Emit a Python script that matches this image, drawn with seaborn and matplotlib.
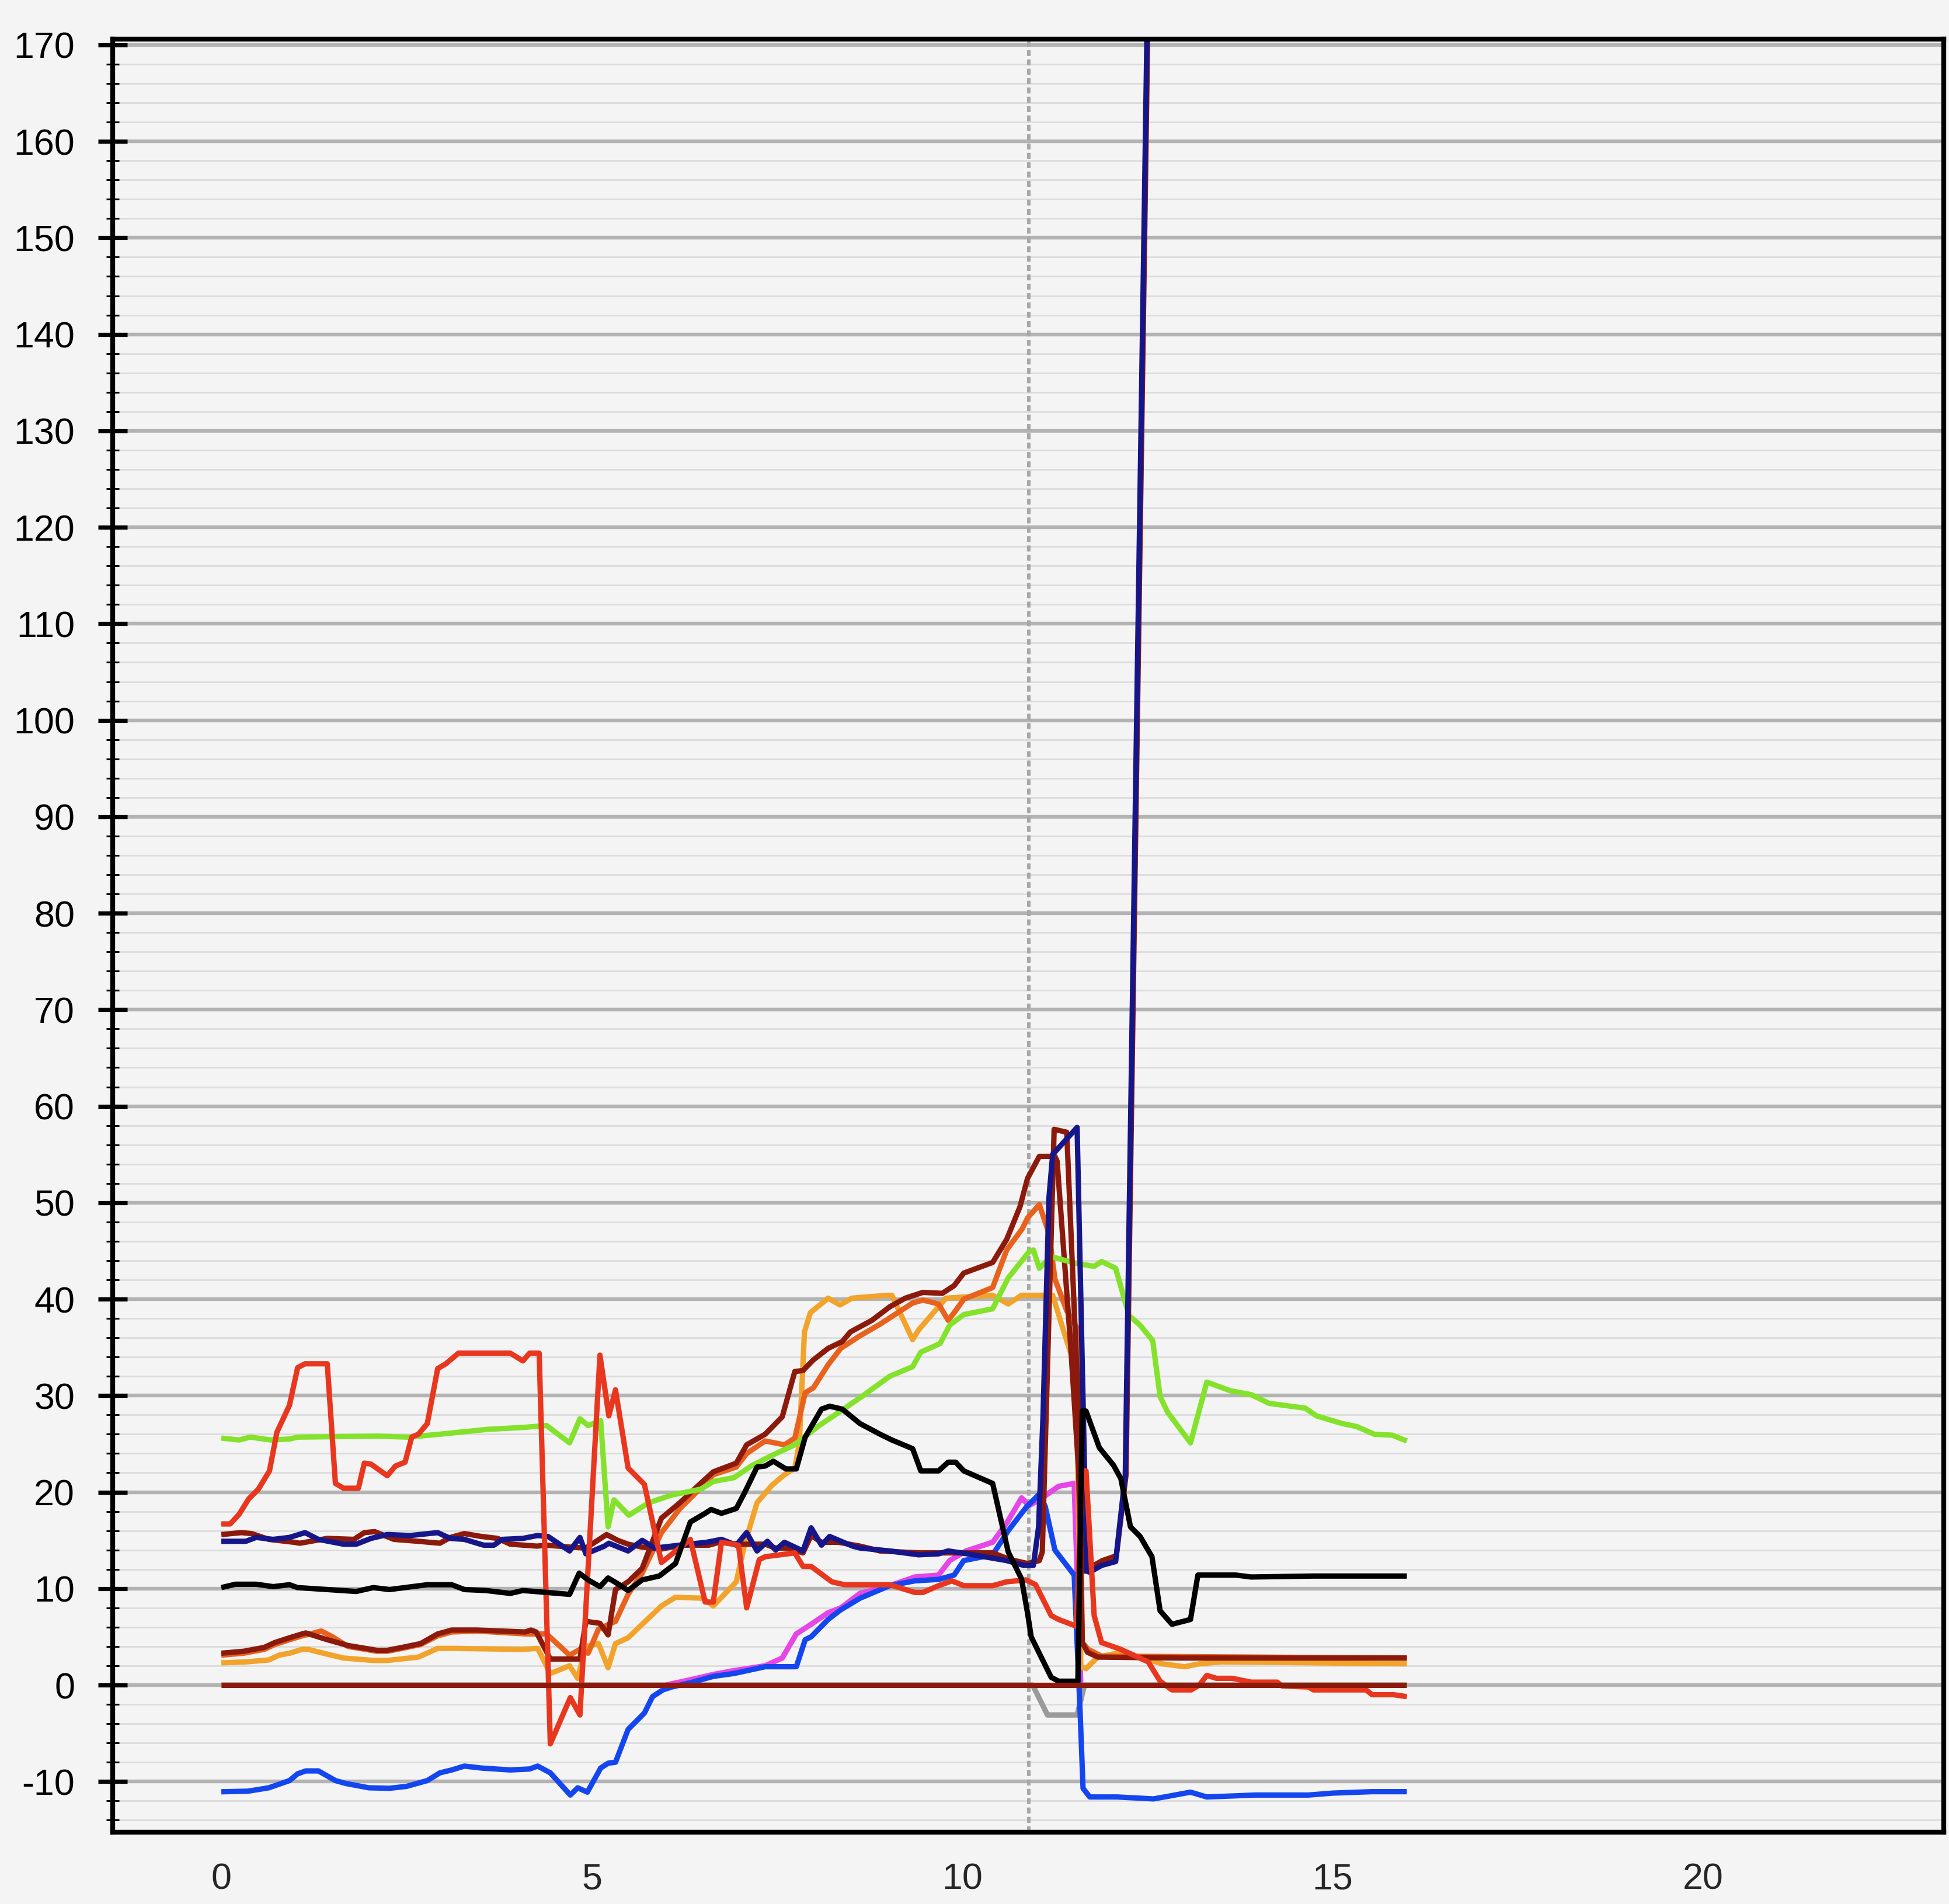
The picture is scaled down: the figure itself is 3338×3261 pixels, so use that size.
import numpy as np
import pandas as pd
import matplotlib
matplotlib.use("Agg")
import matplotlib.pyplot as plt
from matplotlib.ticker import MultipleLocator
import seaborn as sns

# ---------------- data ----------------
red_x = [0, 0.12, 0.24, 0.37, 0.5, 0.65, 0.75, 0.92, 1.03, 1.13, 1.43, 1.54, 1.65, 1.85, 1.93, 2.02,
         2.24, 2.35, 2.48, 2.57, 2.66, 2.78, 2.92, 3.03, 3.2, 3.9, 4.07, 4.16, 4.29, 4.44, 4.71, 4.84,
         5.11, 5.23, 5.32, 5.49, 5.71, 5.94, 6.33, 6.53, 6.64, 6.75, 6.98, 7.09, 7.26, 7.34, 7.74, 7.85,
         7.96, 8.24, 8.41, 9.02, 9.36, 9.47, 9.68, 9.86, 10.02, 10.41, 10.6, 10.86, 10.99, 11.2, 11.3,
         11.54, 11.62, 11.67, 11.78, 11.88, 12.14, 12.51, 12.67, 12.83, 13.09, 13.2, 13.3, 13.43, 13.64,
         13.9, 14.25, 14.32, 14.67, 14.74, 15.45, 15.53, 15.82, 16.0]
red_y = [16.7, 16.7, 17.7, 19.3, 20.3, 22.2, 26.2, 29.0, 32.9, 33.3, 33.3, 20.9, 20.4, 20.4, 23.0, 22.9,
         21.7, 22.7, 23.1, 25.7, 26.0, 27.1, 32.8, 33.3, 34.4, 34.4, 33.6, 34.4, 34.4, -6.1, -1.3, -3.1,
         34.2, 27.9, 30.6, 22.5, 20.8, 12.7, 15.1, 8.6, 8.6, 14.8, 14.5, 8.0, 13.0, 13.3, 13.7, 12.3,
         12.3, 10.7, 10.4, 10.4, 9.6, 9.6, 10.3, 10.8, 10.3, 10.3, 10.7, 10.9, 10.4, 7.2, 6.8,
         6.1, 22.2, 22.2, 7.2, 4.4, 3.7, 2.4, 0.4, -0.5, -0.5, 0.0, 1.0, 0.7, 0.7,
         0.3, 0.3, -0.1, -0.2, -0.5, -0.5, -1.0, -1.0, -1.2]

green_x = [0, 0.24, 0.39, 0.67, 0.92, 1.03, 2.1, 2.52, 2.95, 3.59, 4.07, 4.39, 4.7, 4.84, 4.95, 5.12,
           5.22, 5.3, 5.5, 5.77, 6.08, 6.47, 6.64, 6.92, 7.15, 7.43, 7.74, 8.05, 8.36, 8.68, 9.02, 9.33,
           9.44, 9.7, 9.83, 10.02, 10.41, 10.62, 10.9, 10.96, 11.04, 11.2, 11.54, 11.78, 11.88, 12.07,
           12.25, 12.4, 12.57, 12.67, 12.77, 13.08, 13.3, 13.62, 13.9, 14.14, 14.63, 14.78, 15.13,
           15.32, 15.56, 15.8, 16.0]
green_y = [25.6, 25.4, 25.7, 25.4, 25.5, 25.7, 25.8, 25.7, 26.0, 26.5, 26.7, 26.9, 25.1, 27.6, 26.9, 27.4,
           16.4, 19.2, 17.6, 18.9, 19.7, 20.3, 21.1, 21.5, 22.7, 23.8, 24.9, 26.8, 28.4, 30.1, 32.0, 33.0,
           34.5, 35.4, 37.3, 38.4, 39.0, 42.2, 44.9, 45.1, 43.2, 44.4, 43.7, 43.4, 43.9, 43.2,
           38.3, 37.3, 35.7, 29.9, 28.3, 25.1, 31.4, 30.5, 30.1, 29.2, 28.7, 27.9, 27.1,
           26.8, 26.0, 25.9, 25.3]

black_x = [0, 0.19, 0.47, 0.7, 0.92, 1.03, 1.43, 1.82, 2.05, 2.27, 2.78, 3.11, 3.28, 3.57, 3.9, 4.07,
           4.39, 4.7, 4.83, 4.95, 5.11, 5.22, 5.35, 5.49, 5.68, 5.91, 6.13, 6.33, 6.53, 6.61, 6.75, 6.95,
           7.06, 7.23, 7.34, 7.45, 7.62, 7.76, 7.88, 8.1, 8.21, 8.38, 8.62, 8.89, 9.05, 9.33, 9.44, 9.68,
           9.81, 9.91, 10.02, 10.41, 10.62, 10.8, 10.88, 10.93, 11.02, 11.2, 11.3, 11.56, 11.62, 11.67,
           11.85, 12.04, 12.14, 12.27, 12.4, 12.56, 12.67, 12.83, 13.08, 13.18, 13.69, 13.9, 14.74, 16.0]
black_y = [10.1, 10.45, 10.45, 10.2, 10.4, 10.1, 9.9, 9.7, 10.1, 9.9, 10.4, 10.4, 9.9, 9.8, 9.5, 9.8,
           9.6, 9.4, 11.6, 10.9, 10.2, 11.1, 10.5, 9.8, 10.9, 11.3, 12.6, 16.9, 17.8, 18.2, 17.8, 18.3,
           19.9, 22.6, 22.7, 23.2, 22.4, 22.4, 25.7, 28.6, 28.9, 28.6, 27.1, 26.0, 25.4, 24.5, 22.2, 22.2,
           23.1, 23.1, 22.2, 20.9, 13.8, 11.0, 7.5, 5.0, 3.6, 0.8, 0.4, 0.4, 28.4, 28.4,
           24.6, 22.8, 21.4, 16.4, 15.4, 13.3, 7.7, 6.3, 6.8, 11.4, 11.4, 11.2, 11.3, 11.3]

navy_x = [0, 0.33, 0.47, 0.7, 0.92, 1.13, 1.31, 1.65, 1.82, 2.02, 2.24, 2.55, 2.92, 3.09, 3.28, 3.54,
          3.68, 3.79, 4.07, 4.27, 4.41, 4.7, 4.84, 4.92, 5.17, 5.23, 5.49, 5.68, 5.85, 6.19, 6.55, 6.75,
          6.95, 7.09, 7.23, 7.37, 7.48, 7.6, 7.85, 7.96, 8.1, 8.21, 8.52, 8.62, 9.02, 9.41, 9.68, 9.81,
          10.07, 10.6, 10.83, 10.96, 11.03, 11.09, 11.17, 11.22, 11.55, 11.68, 11.72, 11.88, 12.07,
          12.2, 12.5]
navy_y = [14.9, 14.9, 15.3, 15.1, 15.3, 15.8, 15.1, 14.6, 14.6, 15.2, 15.6, 15.5, 15.8, 15.2, 15.1, 14.5,
          14.5, 15.1, 15.2, 15.5, 15.4, 13.9, 15.3, 13.6, 14.4, 14.7, 13.9, 15.0, 14.2, 14.5, 14.8, 15.1,
          14.5, 15.8, 13.9, 14.9, 14.0, 14.8, 13.9, 16.3, 14.5, 15.4, 14.4, 14.2, 13.9, 13.5, 13.6, 13.9,
          13.6, 12.9, 12.4, 12.4, 16.4, 27.9, 50.5, 55.0, 57.8, 11.8, 11.7, 12.4, 12.8,
          21.8, 175.0]

darkred_a_x = [0, 0.27, 0.41, 0.64, 0.98, 1.06, 1.43, 1.79, 1.93, 2.07, 2.33, 2.66, 2.95, 3.09, 3.28,
               3.51, 3.73, 3.9, 4.26, 4.39, 4.7, 4.92, 5.2, 5.35, 5.49, 5.68, 5.94, 6.22, 6.58, 6.72,
               6.98, 7.34, 7.48, 7.65, 7.85, 7.96, 8.1, 8.33, 8.62, 8.89, 9.41, 10.41, 10.65, 10.88,
               11.04, 11.08, 11.24, 11.41, 11.66, 11.73, 11.89, 12.08, 12.21, 12.51]
darkred_a_y = [15.6, 15.8, 15.7, 15.1, 14.8, 14.7, 15.2, 15.1, 15.8, 15.9, 15.1, 14.9, 14.7, 15.3, 15.7,
               15.4, 15.2, 14.6, 14.4, 14.5, 14.3, 14.2, 15.6, 15.0, 14.6, 14.3, 14.1, 14.5, 14.5, 14.8,
               14.6, 14.6, 14.2, 14.2, 13.7, 15.5, 14.8, 14.8, 14.4, 13.9, 13.7, 13.7, 13.0, 12.6,
               12.9, 13.8, 57.6, 57.3, 11.8, 12.2, 12.9, 13.4, 21.8, 175.0]

darkred_b_x = [0, 0.3, 0.58, 0.72, 0.92, 1.09, 1.14, 1.43, 1.71, 2.1, 2.24, 2.44, 2.69, 2.92, 3.11,
               3.45, 4.1, 4.18, 4.25, 4.44, 4.84, 4.92, 5.11, 5.22, 5.32, 5.49, 5.68, 5.94, 6.19, 6.44,
               6.64, 6.95, 7.09, 7.34, 7.57, 7.74, 7.85, 7.99, 8.19, 8.38, 8.49, 8.78, 9.02, 9.23, 9.47,
               9.73, 9.89, 10.02, 10.41, 10.6, 10.78, 10.88, 11.04, 11.25, 11.28, 11.46, 11.57, 11.62,
               11.69, 11.83, 12.93, 16.0]
darkred_b_y = [3.3, 3.5, 3.9, 4.4, 4.9, 5.3, 5.4, 4.7, 4.1, 3.6, 3.6, 3.9, 4.3, 5.3, 5.7,
               5.7, 5.5, 5.7, 5.5, 2.7, 2.7, 6.6, 6.4, 5.2, 9.9, 10.7, 12.1, 17.3, 18.9, 20.7,
               22.1, 23.0, 24.9, 26.0, 27.8, 32.5, 32.6, 33.7, 34.9, 35.6, 36.6, 37.8, 39.2, 40.1, 40.7,
               40.6, 41.4, 42.7, 43.8, 46.2, 49.6, 52.5, 54.8, 54.8, 54.3, 35.5, 22.3, 4.4,
               3.4, 2.9, 2.8, 2.8]

orangered_x = [0, 0.3, 0.58, 0.72, 0.92, 1.09, 1.2, 1.35, 1.5, 1.71, 2.1, 2.24, 2.44, 2.69, 2.92, 3.11,
               3.45, 4.11, 4.39, 4.7, 4.84, 4.95, 5.09, 5.32, 5.49, 5.68, 5.94, 6.19, 6.44, 6.64, 6.95,
               7.09, 7.34, 7.6, 7.74, 7.88, 7.99, 8.19, 8.36, 8.62, 8.89, 9.33, 9.47, 9.68, 9.81, 9.91,
               10.02, 10.41, 10.6, 10.81, 10.88, 11.04, 11.17, 11.25, 11.41, 11.54, 11.57, 11.62, 11.7,
               11.88, 16.0]
orangered_y = [3.1, 3.3, 3.7, 4.2, 4.7, 5.1, 5.3, 5.6, 5.0, 4.0, 3.5, 3.5, 3.8, 4.2, 5.1, 5.5,
               5.6, 5.3, 5.3, 3.1, 3.7, 3.3, 5.8, 6.6, 9.4, 11.6, 15.8, 18.3, 20.2, 21.8, 22.6,
               24.0, 25.3, 24.9, 25.6, 30.3, 30.8, 33.2, 34.9, 36.2, 37.4, 39.6, 39.9, 39.5, 37.8, 38.8,
               40.0, 41.2, 45.1, 47.3, 48.4, 49.8, 46.8, 42.1, 38.8, 37.1, 32.6, 4.4, 3.7,
               3.0, 2.8]

orange_x = [0, 0.33, 0.64, 0.78, 0.92, 1.09, 1.17, 1.43, 1.65, 2.05, 2.24, 2.66, 2.92, 3.11, 4.07, 4.27,
            4.44, 4.7, 4.81, 4.92, 5.09, 5.22, 5.32, 5.49, 5.68, 5.94, 6.13, 6.5, 6.64, 6.95, 7.06, 7.23,
            7.43, 7.6, 7.74, 7.8, 7.87, 7.95, 8.19, 8.35, 8.51, 8.99, 9.05, 9.33, 9.41, 9.78, 10.41,
            10.62, 10.8, 11.22, 11.38, 11.54, 11.6, 11.67, 11.83, 12.09, 12.4, 12.7, 13.0, 13.2, 13.5,
            16.0]
orange_y = [2.3, 2.4, 2.6, 3.1, 3.3, 3.7, 3.7, 3.2, 2.8, 2.55, 2.55, 2.9, 3.8, 3.8, 3.7, 3.8,
            1.2, 2.0, 0.7, 4.0, 4.3, 1.8, 4.3, 4.9, 6.3, 8.2, 9.1, 9.0, 8.2, 10.7, 14.5, 18.9,
            20.7, 21.8, 22.5, 25.0, 36.6, 38.6, 40.1, 39.4, 40.1, 40.4, 40.4, 35.8, 36.8, 40.1, 40.4,
            39.5, 40.4, 40.4, 36.4, 32.6, 1.9, 1.7, 2.9, 3.3, 2.9, 2.2, 1.9, 2.2, 2.4,
            2.2]

magenta_x = [6.0, 6.36, 6.64, 6.92, 7.34, 7.57, 7.76, 7.96, 8.19, 8.36, 8.62, 9.02, 9.36, 9.68, 9.83,
             10.05, 10.41, 10.6, 10.8, 10.9, 11.04, 11.3, 11.51, 11.6]
magenta_y = [0.0, 0.6, 1.1, 1.5, 2.0, 2.8, 5.3, 6.3, 7.5, 8.0, 9.5, 10.3, 11.2, 11.4, 12.9,
             13.9, 14.8, 16.8, 19.4, 18.6, 19.2, 20.6, 20.9, 0.0]

blue_x = [0, 0.36, 0.64, 0.92, 1.03, 1.14, 1.31, 1.54, 1.68, 1.99, 2.27, 2.5, 2.78, 2.95, 3.11, 3.28,
          3.51, 3.9, 4.16, 4.27, 4.44, 4.71, 4.81, 4.94, 5.12, 5.22, 5.32, 5.49, 5.71, 5.82, 5.96, 6.08,
          6.36, 6.64, 6.92, 7.34, 7.76, 7.88, 7.96, 8.19, 8.36, 8.62, 9.02, 9.36, 9.68, 9.89, 10.02,
          10.41, 10.62, 10.86, 11.04, 11.12, 11.25, 11.51, 11.59, 11.63, 11.72, 12.09, 12.58, 12.8,
          13.08, 13.3, 13.96, 14.67, 15.0, 15.53, 16.0]
blue_y = [-11.06, -11.0, -10.65, -9.9, -9.2, -8.9, -8.9, -9.9, -10.2, -10.65, -10.7, -10.5, -9.9, -9.1,
          -8.8, -8.4, -8.6, -8.8, -8.7, -8.4, -9.1, -11.4, -10.65, -11.1, -8.6, -8.1, -8.0, -4.6, -2.9,
          -1.2, -0.5, -0.2, 0.3, 0.9, 1.2, 1.9, 1.9, 4.7, 5.0, 6.8, 7.8, 9.0, 10.3, 10.8, 10.95, 11.4,
          12.9, 13.5, 16.0, 18.4, 19.8, 18.5, 14.0, 11.4, -2.7, -10.7, -11.6, -11.6, -11.8, -11.5,
          -11.1, -11.6, -11.4, -11.4, -11.2, -11.05, -11.05]

gray_x = [0, 10.95, 11.15, 11.55, 11.65, 16.0]
gray_y = [0, 0, -3.1, -3.1, 0, 0]

zero_x = [0, 16.0]
zero_y = [0, 0]

marker_x = 10.9  # dotted vertical reference

y_ticks = list(range(-10, 171, 10))
x_ticks = [0, 5, 10, 15, 20]

series = {
    "gray": (gray_x, gray_y, "#9a9a9a"),
    "magenta": (magenta_x, magenta_y, "#e646e6"),
    "blue": (blue_x, blue_y, "#1446f0"),
    "orange": (orange_x, orange_y, "#f2a32c"),
    "orangered": (orangered_x, orangered_y, "#e8621e"),
    "darkred_b": (darkred_b_x, darkred_b_y, "#8c1a0c"),
    "green": (green_x, green_y, "#84e22c"),
    "darkred_a": (darkred_a_x, darkred_a_y, "#8c1a0c"),
    "navy": (navy_x, navy_y, "#16168a"),
    "red": (red_x, red_y, "#e8371e"),
    "black": (black_x, black_y, "#000000"),
    "zero": (zero_x, zero_y, "#8c1a0c"),
}

frames = []
for name, (xs, ys, _) in series.items():
    frames.append(pd.DataFrame({"x": xs, "y": ys, "series": name}))
df = pd.concat(frames, ignore_index=True)
palette = {name: c for name, (_, _, c) in series.items()}

# ---------------- style ----------------
BG = "#f4f4f4"
sns.set_style("white", {"axes.facecolor": BG, "figure.facecolor": BG})
plt.rcParams["font.family"] = ["Liberation Sans", "DejaVu Sans"]
plt.rcParams["axes.unicode_minus"] = False

DPI = 200
LW = 3.3
fig = plt.figure(figsize=(3338 / DPI, 3261 / DPI), dpi=DPI, facecolor=BG)
ax = fig.add_axes([193 / 3338, 1 - 3138 / 3261, (3329 - 193) / 3338, (3138 - 67) / 3261])
ax.set_facecolor(BG)

sns.lineplot(data=df, x="x", y="y", hue="series", hue_order=list(series.keys()),
             palette=palette, estimator=None, sort=False, legend=False,
             linewidth=LW, ax=ax, solid_joinstyle="round", solid_capstyle="butt")
for ln in ax.get_lines():
    ln.set_linewidth(LW)
    ln.set_solid_joinstyle("round")

ax.axvline(marker_x, color="#a8a8a8", lw=2.2, ls=(0, (1.67, 0.95)), zorder=1.5)

ax.set_xlim(-1.466, 23.246)
ax.set_ylim(-15.25, 170.6)

ax.yaxis.set_major_locator(MultipleLocator(10))
ax.yaxis.set_minor_locator(MultipleLocator(2))
ax.set_yticks(y_ticks)
ax.set_xticks(x_ticks)

ax.set_axisbelow(True)
ax.yaxis.grid(True, which="major", color="#b3b3b3", lw=2.3)
ax.yaxis.grid(True, which="minor", color="#dcdcdc", lw=1.0)
ax.xaxis.grid(False)

ax.tick_params(axis="y", which="major", direction="inout", length=18, width=2.6,
               labelsize=22.6, pad=14.4, colors="black", left=True)
ax.tick_params(axis="y", which="minor", direction="inout", length=8, width=1.1,
               colors="black", left=True)
ax.tick_params(axis="x", which="both", length=0, labelsize=22.6, pad=18.5)

for s in ax.spines.values():
    s.set_visible(True)
    s.set_color("black")
    s.set_linewidth(3.0)

ax.set_xlabel("")
ax.set_ylabel("")

fig.savefig("out.png", dpi=DPI, facecolor=BG)
